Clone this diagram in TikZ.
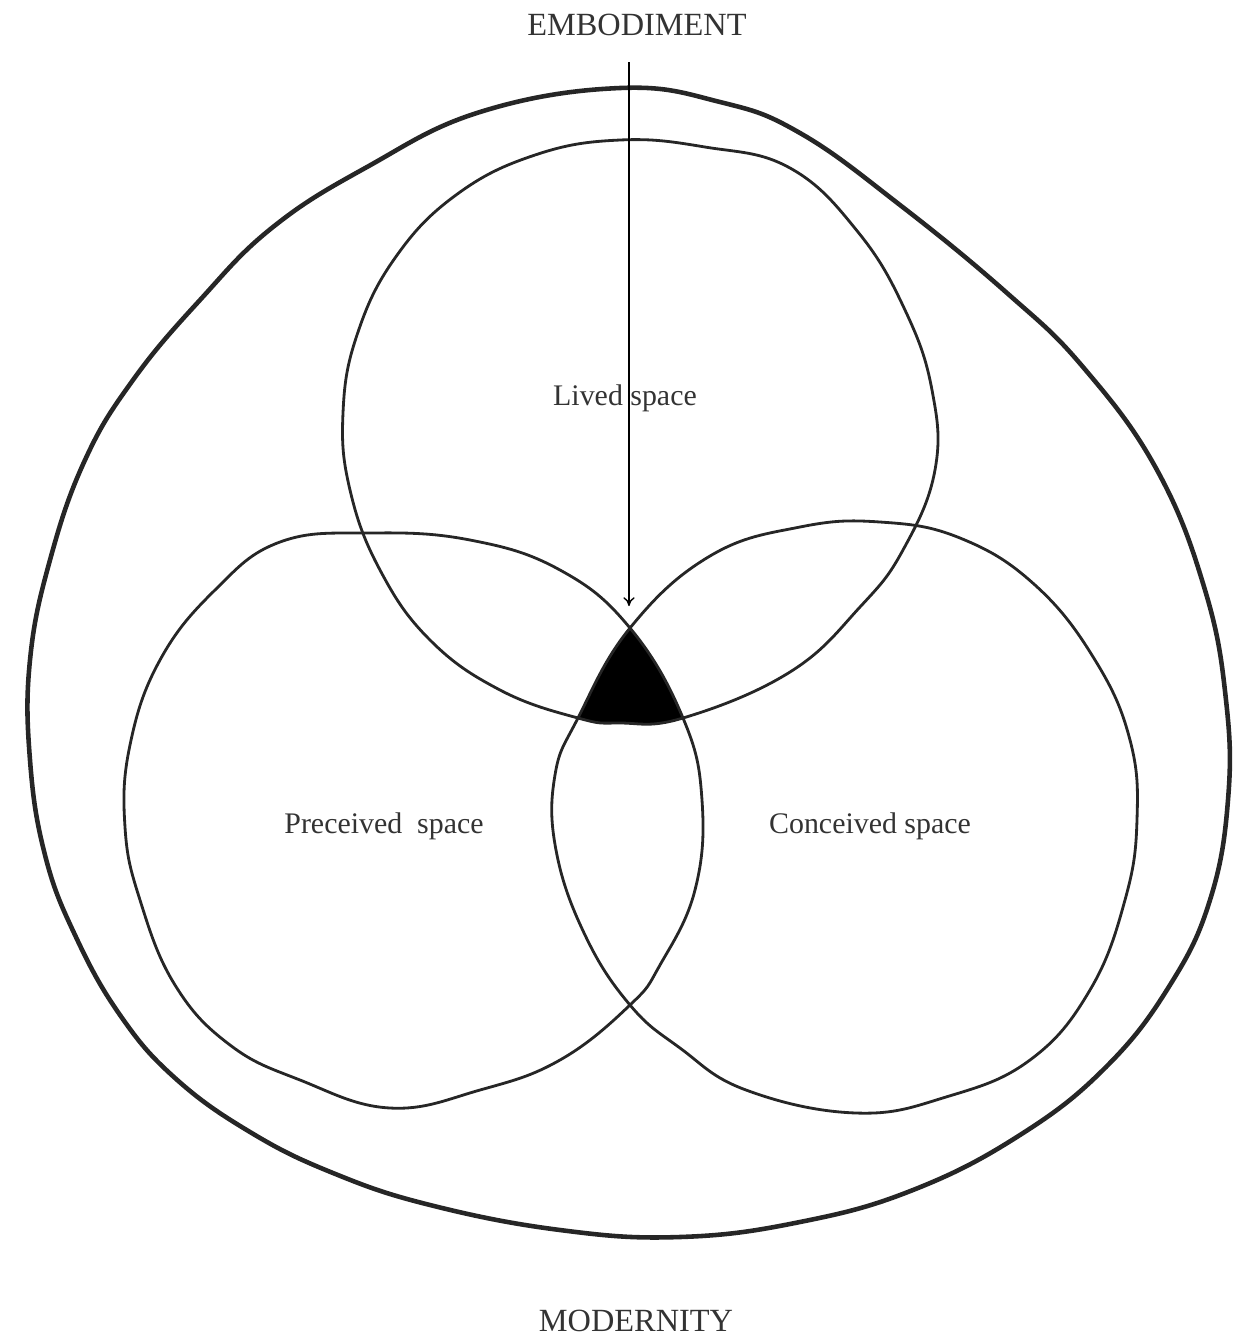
\documentclass[tikz,border=0pt]{standalone}
\usepackage{fontspec}
\setmainfont{Liberation Serif}
\usetikzlibrary{arrows.meta}
% hand drawn outlines of the three spaces
\newcommand\livedspace{plot[smooth cycle, tension=0.7] coordinates {
    (620,140) (705,147) (790,168) (858,232) (905,310) (932,390) (935,470)
    (903,550) (860,607) (790,672) (683,718) (620,723) (578,718) (500,690)
    (430,640) (380,570) (350,490) (343,413) (357,335) (395,258) (456,195)
    (535,155)}}
\newcommand\perceivedspace{plot[smooth cycle, tension=0.7] coordinates {
    (280,542) (370,533) (470,540) (560,570) (630,628) (683,718) (702,800)
    (695,890) (660,965) (630,1005) (560,1060) (480,1090) (390,1108) (300,1080)
    (230,1045) (175,985) (140,900) (125,827) (130,745) (160,660) (215,590)}}
\newcommand\conceivedspace{plot[smooth cycle, tension=0.7] coordinates {
    (800,527) (880,522) (960,538) (1035,585) (1095,660) (1130,740) (1137,820)
    (1125,900) (1090,990) (1030,1060) (946,1097) (856,1113) (746,1090)
    (680,1048) (630,1005) (585,935) (556,850) (555,775) (578,718) (630,628)
    (710,556)}}
\begin{document}
\begin{tikzpicture}[x=0.01cm, y=-0.01cm,
    rim/.style={line width=1.3pt, draw=black!85, line join=round},
    ring/.style={line width=0.8pt, draw=black!85},
    label/.style={text=black!80, font=\fontsize{8.5}{10}\selectfont, inner sep=1pt},
    heading/.style={text=black!80, font=\fontsize{9.2}{11}\selectfont, inner sep=1pt}]
    \useasboundingbox (0,0) rectangle (1246,1335);
    \coordinate (meet) at (629,606);
    % outer boundary
    \draw[rim] plot[smooth cycle, tension=0.7] coordinates {
        (620,88) (720,102) (800,133) (900,205) (1007,293) (1083,367) (1157,470)
        (1205,590) (1226,700) (1228,800) (1210,900) (1170,985) (1106,1067)
        (1020,1135) (913,1190) (800,1222) (680,1237) (560,1230) (430,1205)
        (333,1173) (250,1132) (175,1078) (120,1015) (75,935) (45,855) (30,760)
        (30,660) (50,560) (85,460) (133,380) (200,300) (273,227) (367,167)
        (480,112)};
    % common part of the three spaces
    \begin{scope}
        \clip \livedspace;
        \clip \perceivedspace;
        \fill \conceivedspace;
    \end{scope}
    \draw[ring] \livedspace;
    \draw[ring] \perceivedspace;
    \draw[ring] \conceivedspace;
    \node[heading] (embodiment) at (637,25) {EMBODIMENT};
    \node[heading] (modernity) at (636,1321) {MODERNITY};
    \node[label] (lived) at (625,398) {Lived space};
    \node[label] (perceived) at (384,826) {Preceived\ \ space};
    \node[label] (conceived) at (870,826) {Conceived space};
    \draw[-{To[length=2.5pt, width=3.2pt]}, line width=0.4pt]
        (embodiment.south -| meet) ++(0,22) -- (meet);
\end{tikzpicture}
\end{document}
